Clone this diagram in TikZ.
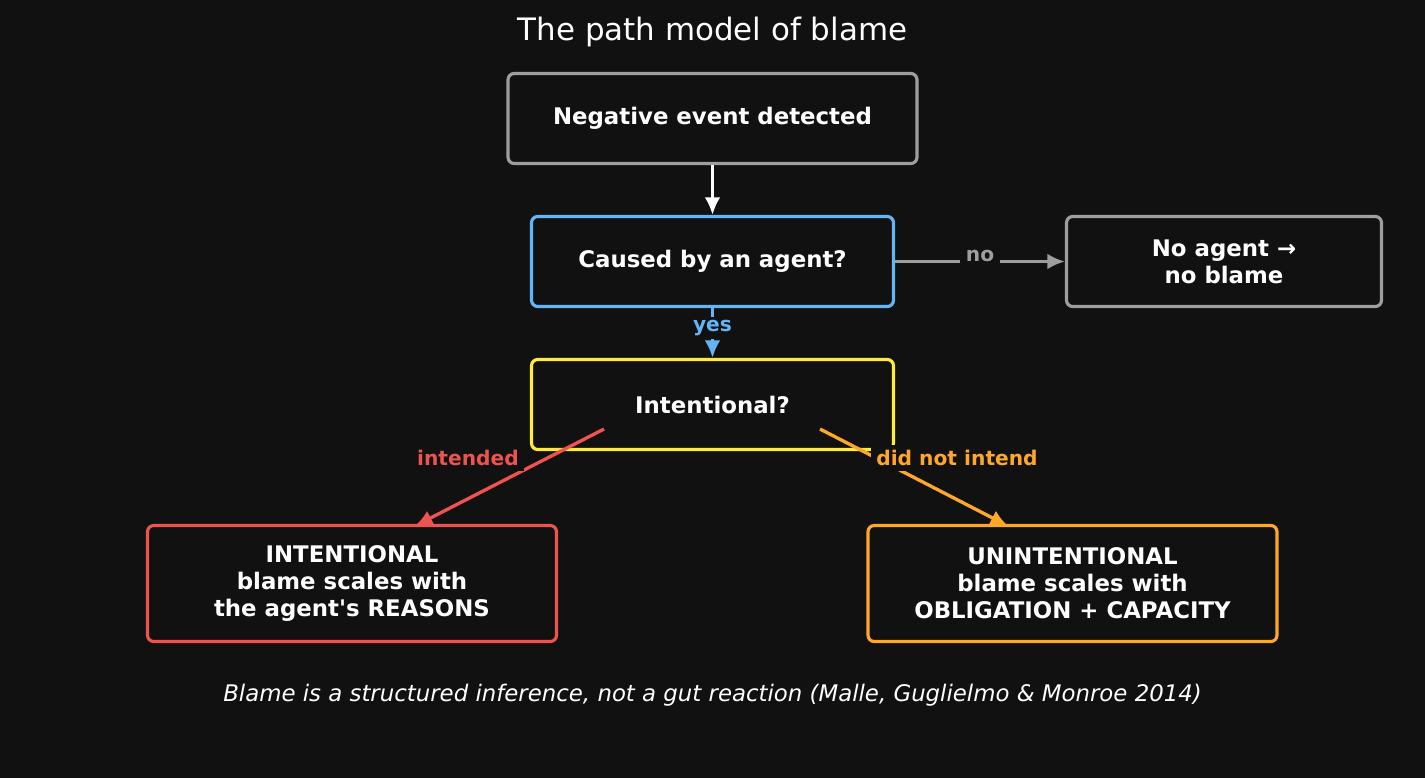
\documentclass[tikz,border=0pt]{standalone}
\usepackage{fontspec}
\setmainfont{DejaVu Sans}[Ligatures=TeXOff]
\usetikzlibrary{arrows.meta,positioning,calc}
\definecolor{pbg}{HTML}{111111}
\definecolor{pgrey}{HTML}{9E9E9E}
\definecolor{pblue}{HTML}{64B5F6}
\definecolor{pyellow}{HTML}{FFEB3B}
\definecolor{pred}{HTML}{EF5350}
\definecolor{porange}{HTML}{FFA726}
\tikzset{
  blk/.style={draw,line width=1.8pt,rounded corners=3.5pt,fill=pbg,text=white,align=center,
              font=\fontsize{13}{15.4}\selectfont\bfseries,inner sep=0pt,minimum height=1.8cm},
  arr/.style={-{Latex[length=10pt,width=9pt]},line width=1.9pt},
  lbl/.style={fill=pbg,font=\fontsize{11.5}{13}\selectfont\bfseries,inner sep=3.2pt},
}
\begin{document}
\begin{tikzpicture}[x=0.02cm,y=-0.02cm]
\fill[pbg] (0,0) rectangle (1425,778);
\node[font=\fontsize{17.6}{20}\selectfont,text=white] (title) at (712.5,31.5) {The path model of blame};
% boxes
\node[blk,draw=pgrey,minimum width=8.18cm] (neg) at (712.5,118.5) {Negative event detected};
\node[blk,draw=pblue,minimum width=7.24cm] (agent) at (712.5,261.5) {Caused by an agent?};
\node[blk,draw=pgrey,minimum width=6.3cm] (noag) at (1224,261.5) {No agent →\\no blame};
\node[blk,draw=pyellow,minimum width=7.24cm] (intent) at (712.5,404.5) {Intentional?};
\node[blk,draw=pred,minimum width=8.18cm,minimum height=2.32cm] (intl) at (352,583.5) {INTENTIONAL\\blame scales with\\the agent's REASONS};
\node[blk,draw=porange,minimum width=8.18cm,minimum height=2.32cm] (unint) at (1072.5,583.5) {UNINTENTIONAL\\blame scales with\\OBLIGATION + CAPACITY};
% flows
\coordinate (iL) at ($(intent.center)+(-108.5,24.5)$);
\coordinate (iR) at ($(intent.center)+(107.5,24.5)$);
\coordinate (tL) at ($(intl.north)+(63,2)$);
\coordinate (tR) at ($(unint.north)+(-64.5,2)$);
\draw[arr,white] (neg) -- (agent);
\draw[arr,pblue] (agent) -- node[lbl,text=pblue,pos=0.4,inner sep=2pt] (lyes) {yes} (intent);
\draw[arr,pgrey] (agent) -- node[lbl,text=pgrey,yshift=3pt] (lno) {no} (noag);
\draw[arr,pred] (iL) -- (tL);
\draw[arr,porange] (iR) -- (tR);
\node[lbl,text=pred] (lint) at (468,458) {intended};
\node[lbl,text=porange] (lnot) at (957,458) {did not intend};
% footnote
\node[font=\fontsize{13}{15}\selectfont\itshape,text=white] (note) at (712.5,695.5) {Blame is a structured inference, not a gut reaction (Malle, Guglielmo \& Monroe 2014)};
\end{tikzpicture}
\end{document}
